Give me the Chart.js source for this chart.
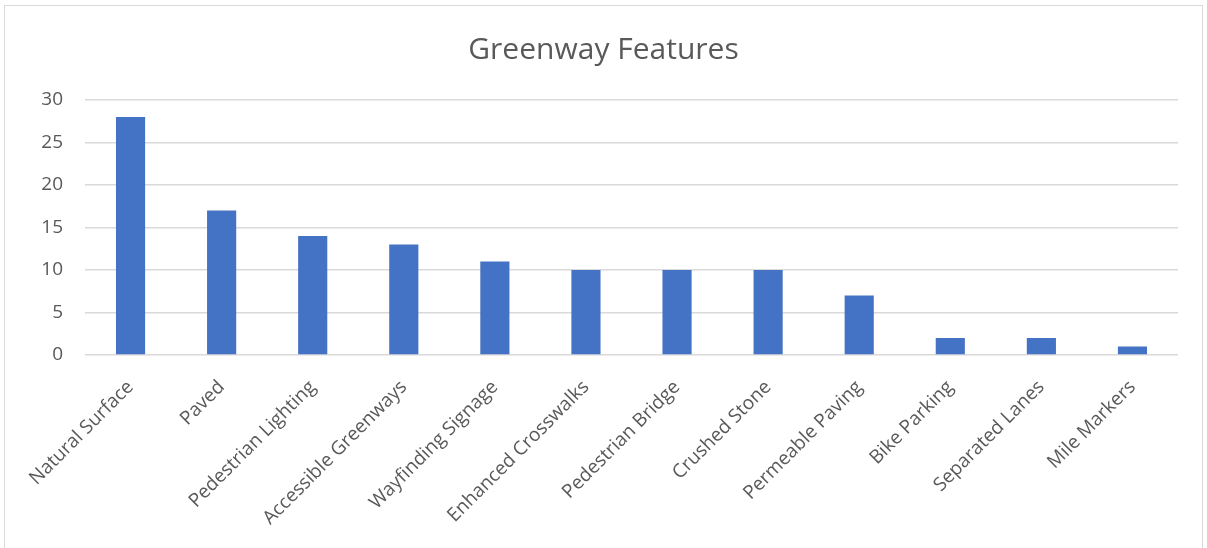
<!DOCTYPE html>
<html>
<head>
<meta charset="utf-8">
<script src="https://cdn.jsdelivr.net/npm/chart.js@4"></script>
<style>
  html, body { margin: 0; padding: 0; background: #fff; }
  #wrap { width: 1207px; height: 548px; }
</style>
</head>
<body>
<div id="wrap"><canvas id="featuresChart"></canvas></div>
<script>
const categories = [
  "Natural Surface", "Paved", "Pedestrian Lighting", "Accessible Greenways",
  "Wayfinding Signage", "Enhanced Crosswalks", "Pedestrian Bridge", "Crushed Stone",
  "Permeable Paving", "Bike Parking", "Separated Lanes", "Mile Markers"
];
const counts = [28, 17, 14, 13, 11, 10, 10, 10, 7, 2, 2, 1];
const yTicks = [0, 5, 10, 15, 20, 25, 30];

const FONT = "'Open Sans', 'Noto Sans', sans-serif";
const GREY_TEXT = "#595959";
const GRID = "#d9d9d9";

// light frame round the whole chart, like the spreadsheet chart box
const frame = {
  id: "frame",
  beforeDraw(chart) {
    const c = chart.ctx;
    c.save();
    c.strokeStyle = GRID;
    c.lineWidth = 1;
    c.strokeRect(4.5, 5.5, 1198, 600);
    c.restore();
  }
};

const ctx = document.getElementById("featuresChart").getContext("2d");

new Chart(ctx, {
  type: "bar",
  data: {
    labels: categories,
    datasets: [{
      label: "Count",
      data: counts,
      backgroundColor: "#4472c4",
      barPercentage: 0.32,
      categoryPercentage: 1
    }]
  },
  plugins: [frame],
  options: {
    responsive: true,
    maintainAspectRatio: false,
    animation: false,
    layout: { padding: { left: 29, right: 29, top: 0, bottom: 0 } },
    plugins: {
      legend: { display: false },
      tooltip: { enabled: false },
      title: {
        display: true,
        text: "Greenway Features",
        color: GREY_TEXT,
        font: { family: FONT, size: 30, weight: "normal" },
        padding: { top: 32, bottom: 32 }
      }
    },
    scales: {
      x: {
        grid: { display: false },
        border: { display: false },
        ticks: {
          color: GREY_TEXT,
          font: { family: FONT, size: 19 },
          minRotation: 45,
          maxRotation: 45,
          padding: 13,
          autoSkip: false
        },
        afterFit: (s) => { s.height = 193; }
      },
      y: {
        min: 0,
        max: 30,
        afterBuildTicks: (s) => { s.ticks = yTicks.map(v => ({ value: v })); },
        grid: { color: GRID, drawTicks: false, lineWidth: 1.5 },
        border: { display: false },
        ticks: {
          color: GREY_TEXT,
          font: { family: FONT, size: 19 },
          padding: 22
        },
        afterFit: (s) => { s.width = 56; }
      }
    }
  }
});
</script>
</body>
</html>
